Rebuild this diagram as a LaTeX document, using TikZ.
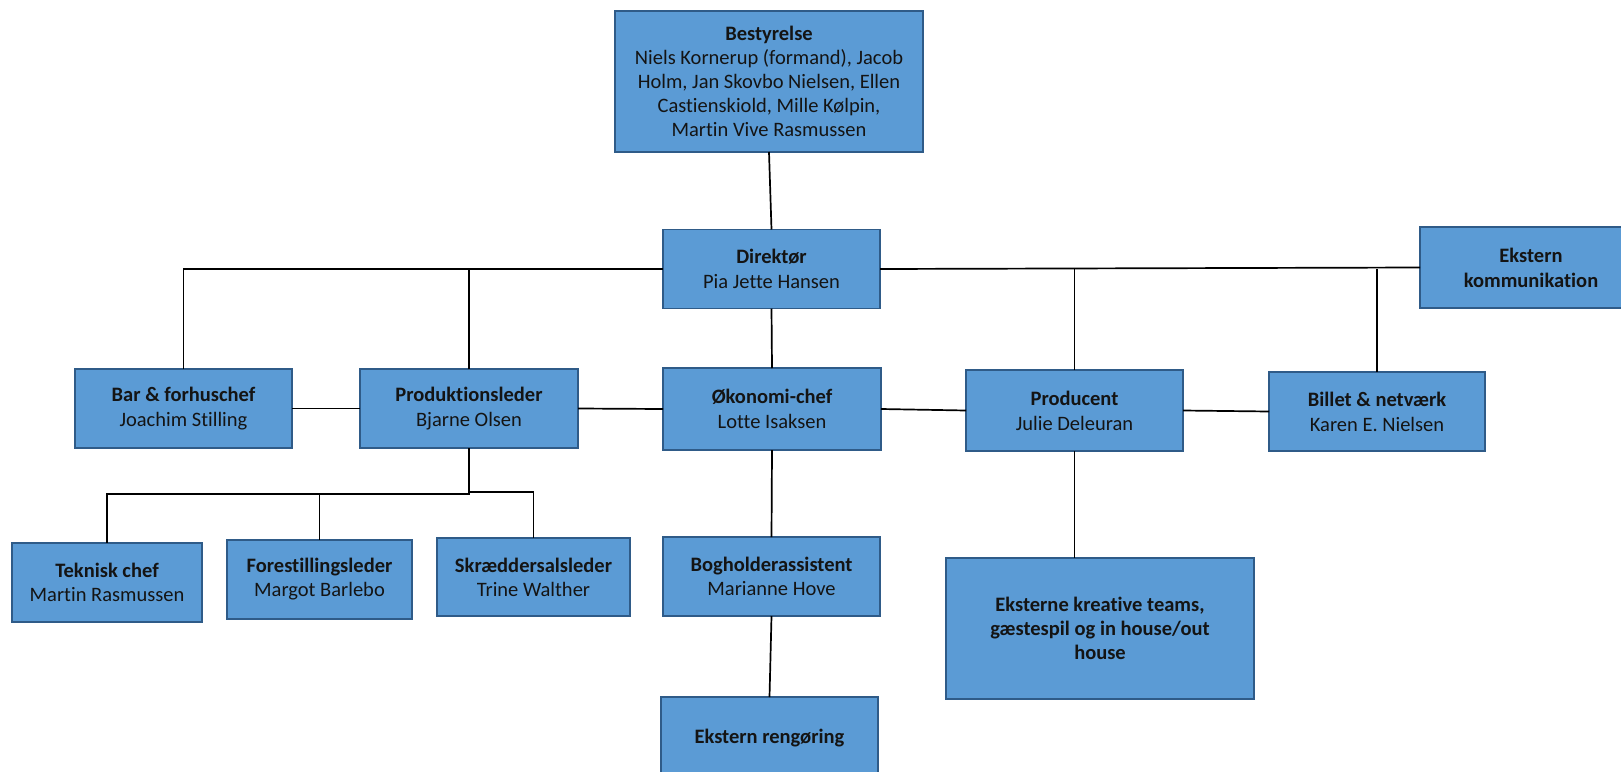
\documentclass[tikz,border=0pt]{standalone}
\usepackage{fontspec}
\setmainfont{Carlito}[Ligatures=NoCommon]
\usetikzlibrary{calc}
\definecolor{fillc}{HTML}{5B9BD5}
\definecolor{bordc}{HTML}{2F5B88}
\definecolor{txtc}{HTML}{141414}
\tikzset{
  orgbox/.style={draw=bordc, fill=fillc, line width=1.8pt, inner sep=0pt, outer sep=0pt,
    align=center, text=txtc, font=\fontsize{20.5}{24}\selectfont},
  conn/.style={draw=black, line width=1.7pt},
}
\begin{document}
\begin{tikzpicture}[x=1pt,y=-1pt]
\useasboundingbox (0,0) rectangle (1621,771);
% nodes
\node[orgbox, minimum width=308pt, minimum height=141pt] (best) at (769,81.5)
  {\textbf{Bestyrelse}\\Niels Kornerup (formand), Jacob\\Holm, Jan Skovbo Nielsen, Ellen\\Castienskiold, Mille Kølpin,\\Martin Vive Rasmussen};
\node[orgbox, minimum width=217pt, minimum height=79pt] (dir) at (771.5,269)
  {\textbf{Direktør}\\[1pt]Pia Jette Hansen};
\node[orgbox, minimum width=222pt, minimum height=81pt] (ekom) at (1531,267.5)
  {\textbf{Ekstern}\\[1pt]\textbf{kommunikation}};
\node[orgbox, minimum width=217pt, minimum height=79pt] (bar) at (183.5,408.5)
  {\textbf{Bar \& forhuschef}\\[1pt]Joachim Stilling};
\node[orgbox, minimum width=218pt, minimum height=79pt] (prod) at (469,408.5)
  {\textbf{Produktionsleder}\\[1pt]Bjarne Olsen};
\node[orgbox, minimum width=218pt, minimum height=82pt] (okon) at (772,409)
  {\textbf{Økonomi-chef}\\[1pt]Lotte Isaksen};
\node[orgbox, minimum width=217pt, minimum height=81pt] (producent) at (1074.5,410.5)
  {\textbf{Producent}\\[1pt]Julie Deleuran};
\node[orgbox, minimum width=216pt, minimum height=79pt] (billet) at (1377,411.5)
  {\textbf{Billet \& netværk}\\[1pt]Karen E. Nielsen};
\node[orgbox, minimum width=190pt, minimum height=79pt] (tek) at (107,582.5)
  {\textbf{Teknisk chef}\\Martin Rasmussen};
\node[orgbox, minimum width=185pt, minimum height=79pt] (fore) at (319.5,579.5)
  {\textbf{Forestillingsleder}\\Margot Barlebo};
\node[orgbox, minimum width=193pt, minimum height=78pt] (skr) at (533.5,577)
  {\textbf{Skræddersalsleder}\\Trine Walther};
\node[orgbox, minimum width=217pt, minimum height=79pt] (bog) at (771.5,576.5)
  {\textbf{Bogholderassistent}\\Marianne Hove};
\node[orgbox, minimum width=217pt, minimum height=83pt] (reng) at (769.5,738.5)
  {\textbf{Ekstern rengøring}};
\node[orgbox, minimum width=308pt, minimum height=141pt] (kreat) at (1100,628.5)
  {\textbf{Eksterne kreative teams,}\\\textbf{gæstespil og in house/out}\\\textbf{house}};
% connectors
\draw[conn] (best.south) -- (dir.north);
\draw[conn] (bar.north) |- (dir.west);
\draw[conn] (prod.north) -- (prod.north |- dir.west);
\draw[conn] (dir.east) -- (ekom.west);
\draw[conn] (producent.north) -- (producent.north |- dir.east);
\draw[conn] (billet.north) -- (billet.north |- dir.east);
\draw[conn] (dir.south) -- (okon.north);
\draw[conn] (bar.east) -- (prod.west);
\draw[conn] (prod.east) -- (okon.west);
\draw[conn] (okon.east) -- (producent.west);
\draw[conn] (producent.east) -- (billet.west);
\coordinate (j1) at (469,494);
\coordinate (j2) at (469,492);
\draw[conn] (prod.south) -- (j1) -| (tek.north);
\draw[conn] (j1) -| (fore.north);
\draw[conn] (prod.south) -- (j2) -| (skr.north);
\draw[conn] (okon.south) -- (bog.north);
\draw[conn] (bog.south) -- (reng.north);
\draw[conn] (producent.south) -- (producent.south |- kreat.north);
\end{tikzpicture}
\end{document}
